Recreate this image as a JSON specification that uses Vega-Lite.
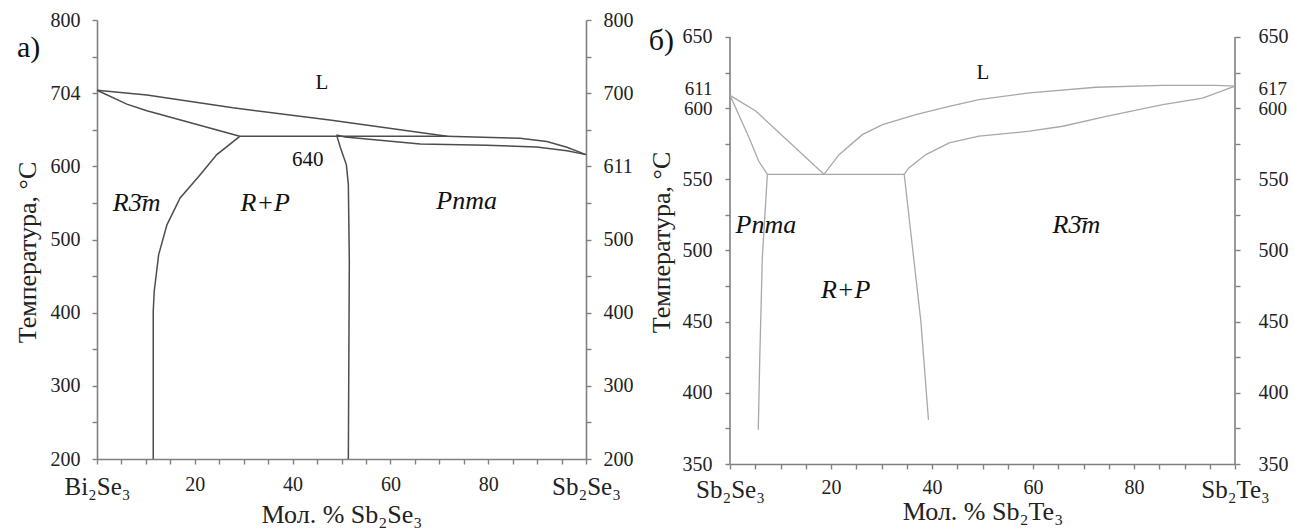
{
  "$schema": "https://vega.github.io/schema/vega-lite/v6.json",
  "padding": {"left": 14, "top": 10, "right": 5, "bottom": 5},
  "background": "white",
  "config": {
    "view": {"stroke": null},
    "font": "'Liberation Serif', 'Times New Roman', serif",
    "axis": {
      "grid": false,
      "domainColor": "#808080",
      "domainWidth": 1.6,
      "tickColor": "#808080",
      "tickWidth": 1.4,
      "tickSize": 5,
      "labelColor": "#222222",
      "labelFont": "'Liberation Serif', 'Times New Roman', serif",
      "labelFontSize": 20,
      "titleFont": "'Liberation Serif', 'Times New Roman', serif",
      "titleFontSize": 26,
      "titleFontWeight": "normal",
      "titleColor": "#222222",
      "labelOverlap": false,
      "labelFlush": false
    },
    "text": {"font": "'Liberation Serif', 'Times New Roman', serif", "color": "#111111"}
  },
  "datasets": {
    "a_lines": [
      {"seg": "liqL", "i": 0, "x": 0, "T": 704},
      {"seg": "liqL", "i": 1, "x": 10.2, "T": 697.5},
      {"seg": "liqL", "i": 2, "x": 27.8, "T": 680},
      {"seg": "liqL", "i": 3, "x": 47.6, "T": 663.3},
      {"seg": "liqL", "i": 4, "x": 71.6, "T": 641},
      {"seg": "solL", "i": 0, "x": 0, "T": 704},
      {"seg": "solL", "i": 1, "x": 6.1, "T": 685},
      {"seg": "solL", "i": 2, "x": 10.2, "T": 676},
      {"seg": "solL", "i": 3, "x": 29.2, "T": 641},
      {"seg": "liqR", "i": 0, "x": 29.2, "T": 641},
      {"seg": "liqR", "i": 1, "x": 71.6, "T": 641},
      {"seg": "liqR", "i": 2, "x": 86.5, "T": 638.4},
      {"seg": "liqR", "i": 3, "x": 92, "T": 633.8},
      {"seg": "liqR", "i": 4, "x": 96.1, "T": 626.1},
      {"seg": "liqR", "i": 5, "x": 100, "T": 616},
      {"seg": "solR", "i": 0, "x": 49, "T": 643},
      {"seg": "solR", "i": 1, "x": 50.7, "T": 640},
      {"seg": "solR", "i": 2, "x": 66.1, "T": 630.5},
      {"seg": "solR", "i": 3, "x": 79.7, "T": 628.7},
      {"seg": "solR", "i": 4, "x": 89.9, "T": 626.4},
      {"seg": "solR", "i": 5, "x": 96.1, "T": 621.4},
      {"seg": "solR", "i": 6, "x": 100, "T": 616},
      {"seg": "solvP", "i": 0, "x": 49, "T": 643},
      {"seg": "solvP", "i": 1, "x": 49.8, "T": 625},
      {"seg": "solvP", "i": 2, "x": 51, "T": 602},
      {"seg": "solvP", "i": 3, "x": 51.4, "T": 575},
      {"seg": "solvP", "i": 4, "x": 51.6, "T": 470},
      {"seg": "solvP", "i": 5, "x": 51.4, "T": 200},
      {"seg": "solvR", "i": 0, "x": 29.2, "T": 641},
      {"seg": "solvR", "i": 1, "x": 24.5, "T": 616},
      {"seg": "solvR", "i": 2, "x": 21.1, "T": 588.6},
      {"seg": "solvR", "i": 3, "x": 17, "T": 556.7},
      {"seg": "solvR", "i": 4, "x": 14.3, "T": 520},
      {"seg": "solvR", "i": 5, "x": 12.6, "T": 479},
      {"seg": "solvR", "i": 6, "x": 11.7, "T": 429},
      {"seg": "solvR", "i": 7, "x": 11.5, "T": 402},
      {"seg": "solvR", "i": 8, "x": 11.5, "T": 200}
    ],
    "a_phase": [
      {"t": "R3̄m", "x": 8.1, "T": 550},
      {"t": "R+P", "x": 34.4, "T": 550},
      {"t": "Pnma", "x": 75.6, "T": 552}
    ],
    "a_plain": [
      {"t": "L", "x": 46, "T": 714},
      {"t": "640", "x": 43.1, "T": 609}
    ],
    "a_letter": [
      {"t": "a)", "x": -14, "T": 762}
    ],
    "b_lines": [
      {"seg": "liqL", "i": 0, "x": 0, "T": 609},
      {"seg": "liqL", "i": 1, "x": 5.1, "T": 598},
      {"seg": "liqL", "i": 2, "x": 18.6, "T": 553.5},
      {"seg": "solL", "i": 0, "x": 0, "T": 609},
      {"seg": "solL", "i": 1, "x": 3.8, "T": 579},
      {"seg": "solL", "i": 2, "x": 5.7, "T": 562.7},
      {"seg": "solL", "i": 3, "x": 7.4, "T": 553.5},
      {"seg": "eut", "i": 0, "x": 7.4, "T": 553.5},
      {"seg": "eut", "i": 1, "x": 34.5, "T": 553.5},
      {"seg": "solvP", "i": 0, "x": 7.4, "T": 553.5},
      {"seg": "solvP", "i": 1, "x": 6.4, "T": 495},
      {"seg": "solvP", "i": 2, "x": 5.9, "T": 425},
      {"seg": "solvP", "i": 3, "x": 5.6, "T": 374},
      {"seg": "solvR", "i": 0, "x": 34.5, "T": 553.5},
      {"seg": "solvR", "i": 1, "x": 36.2, "T": 500},
      {"seg": "solvR", "i": 2, "x": 37.8, "T": 450},
      {"seg": "solvR", "i": 3, "x": 39.3, "T": 381},
      {"seg": "liqR", "i": 0, "x": 18.6, "T": 553.5},
      {"seg": "liqR", "i": 1, "x": 21.6, "T": 567.3},
      {"seg": "liqR", "i": 2, "x": 26.2, "T": 581.4},
      {"seg": "liqR", "i": 3, "x": 30.2, "T": 588.4},
      {"seg": "liqR", "i": 4, "x": 36.8, "T": 595.4},
      {"seg": "liqR", "i": 5, "x": 43.4, "T": 601.3},
      {"seg": "liqR", "i": 6, "x": 49.3, "T": 606},
      {"seg": "liqR", "i": 7, "x": 59.3, "T": 610.7},
      {"seg": "liqR", "i": 8, "x": 72.5, "T": 614.7},
      {"seg": "liqR", "i": 9, "x": 85.7, "T": 616},
      {"seg": "liqR", "i": 10, "x": 96.3, "T": 616},
      {"seg": "liqR", "i": 11, "x": 100, "T": 615.5},
      {"seg": "solR", "i": 0, "x": 34.5, "T": 553.5},
      {"seg": "solR", "i": 1, "x": 35.4, "T": 558},
      {"seg": "solR", "i": 2, "x": 38.8, "T": 567.4},
      {"seg": "solR", "i": 3, "x": 43.4, "T": 575.6},
      {"seg": "solR", "i": 4, "x": 49.3, "T": 580.3},
      {"seg": "solR", "i": 5, "x": 59.3, "T": 583.8},
      {"seg": "solR", "i": 6, "x": 65.9, "T": 587.3},
      {"seg": "solR", "i": 7, "x": 74.5, "T": 594.3},
      {"seg": "solR", "i": 8, "x": 85.7, "T": 602.5},
      {"seg": "solR", "i": 9, "x": 93.6, "T": 607},
      {"seg": "solR", "i": 10, "x": 100, "T": 615.5}
    ],
    "b_frame": [
      {"x": 0, "T": 350, "T2": 650},
      {"x": 100, "T": 350, "T2": 650}
    ],
    "b_phase": [
      {"t": "Pnma", "x": 7.1, "T": 518},
      {"t": "R+P", "x": 22.9, "T": 472.5},
      {"t": "R3̄m", "x": 68.6, "T": 518}
    ],
    "b_plain": [
      {"t": "L", "x": 50.1, "T": 625}
    ],
    "b_letter": [
      {"t": "б)", "x": -13.6, "T": 647}
    ]
  },
  "hconcat": [
    {
      "width": 489,
      "height": 439,
      "encoding": {
        "x": {
          "field": "x", "type": "quantitative",
          "scale": {"domain": [0, 100], "nice": false},
          "axis": {
            "title": "Мол. % Sb₂Se₃",
            "values": [0,5,10,15,20,25,30,35,40,45,50,55,60,65,70,75,80,85,90,95,100],
            "labelExpr": "datum.value == 0 ? 'Bi₂Se₃' : datum.value == 100 ? 'Sb₂Se₃' : (datum.value % 20 == 0 ? datum.label : '')",
            "labelFontSize": {"condition": {"test": "datum.value == 0 || datum.value == 100", "value": 25}, "value": 20},
            "labelPadding": 10,
            "titlePadding": 2
          }
        }
      },
      "layer": [
        {
          "data": {"name": "a_lines"},
          "mark": {"type": "line", "color": "#4d4d4d", "strokeWidth": 1.5},
          "encoding": {
            "y": {
              "field": "T", "type": "quantitative",
              "scale": {"domain": [200, 800], "nice": false, "zero": false},
              "axis": {
                "orient": "left",
                "title": "Температура, °C",
                "titleY": 232,
                "values": [200,250,300,350,400,450,500,550,600,650,700,750,800],
                "labelExpr": "datum.value == 700 ? '704' : (datum.value % 100 == 0 ? datum.label : '')",
                "labelPadding": 12,
                "titlePadding": 10
              }
            },
            "detail": {"field": "seg"},
            "order": {"field": "i", "type": "quantitative"}
          }
        },
        {
          "data": {"name": "a_phase"},
          "mark": {"type": "text", "fontStyle": "italic", "fontSize": 26},
          "encoding": {
            "y": {
              "field": "T", "type": "quantitative",
              "axis": {
                "orient": "right",
                "title": null,
                "values": [200,250,300,350,400,450,500,550,600,650,700,750,800],
                "labelExpr": "datum.value == 600 ? '611' : (datum.value % 100 == 0 ? datum.label : '')",
                "labelPadding": 12
              }
            },
            "text": {"field": "t"}
          }
        },
        {
          "data": {"name": "a_plain"},
          "mark": {"type": "text", "fontSize": 21},
          "encoding": {
            "y": {"field": "T", "type": "quantitative", "axis": null},
            "text": {"field": "t"}
          }
        },
        {
          "data": {"name": "a_letter"},
          "mark": {"type": "text", "fontSize": 30},
          "encoding": {
            "y": {"field": "T", "type": "quantitative", "axis": null},
            "text": {"field": "t"}
          }
        }
      ],
      "resolve": {"axis": {"y": "independent"}}
    },
    {
      "width": 505,
      "height": 444,
      "encoding": {
        "x": {
          "field": "x", "type": "quantitative",
          "scale": {"domain": [0, 100], "nice": false},
          "axis": {
            "title": "Мол. % Sb₂Te₃",
            "values": [0,5,10,15,20,25,30,35,40,45,50,55,60,65,70,75,80,85,90,95,100],
            "labelExpr": "datum.value == 0 ? 'Sb₂Se₃' : datum.value == 100 ? 'Sb₂Te₃' : (datum.value % 20 == 0 ? datum.label : '')",
            "labelFontSize": {"condition": {"test": "datum.value == 0 || datum.value == 100", "value": 25}, "value": 20},
            "labelPadding": 8,
            "titlePadding": -4
          }
        }
      },
      "layer": [
        {
          "data": {"name": "b_frame"},
          "mark": {"type": "rule", "color": "#808080", "strokeWidth": 1.6},
          "encoding": {
            "y": {"field": "T", "type": "quantitative", "axis": null},
            "y2": {"field": "T2"}
          }
        },
        {
          "data": {"name": "b_lines"},
          "mark": {"type": "line", "color": "#a8a8a8", "strokeWidth": 1.3},
          "encoding": {
            "y": {
              "field": "T", "type": "quantitative",
              "scale": {"domain": [350, 661.94], "nice": false, "zero": false},
              "axis": {
                "orient": "left",
                "title": "Температура, °C",
                "domain": false,
                "values": [350,375,400,425,450,475,500,525,550,575,600,613.5,625,650],
                "labelExpr": "datum.value == 613.5 ? '611' : (datum.value % 50 == 0 ? datum.label : '')",
                "labelFontSize": {"condition": {"test": "datum.value == 613.5 || datum.value == 600", "value": 19}, "value": 20},
                "tickOpacity": {"condition": {"test": "datum.value == 613.5", "value": 0}, "value": 1},
                "labelPadding": 13,
                "titlePadding": 8
              }
            },
            "detail": {"field": "seg"},
            "order": {"field": "i", "type": "quantitative"}
          }
        },
        {
          "data": {"name": "b_phase"},
          "mark": {"type": "text", "fontStyle": "italic", "fontSize": 26},
          "encoding": {
            "y": {
              "field": "T", "type": "quantitative",
              "axis": {
                "orient": "right",
                "title": null,
                "domain": false,
                "values": [350,375,400,425,450,475,500,525,550,575,600,613.5,625,650],
                "labelExpr": "datum.value == 613.5 ? '617' : (datum.value % 50 == 0 ? datum.label : '')",
                "labelFontSize": {"condition": {"test": "datum.value == 613.5 || datum.value == 600", "value": 19}, "value": 20},
                "tickOpacity": {"condition": {"test": "datum.value == 613.5", "value": 0}, "value": 1},
                "labelPadding": 18
              }
            },
            "text": {"field": "t"}
          }
        },
        {
          "data": {"name": "b_plain"},
          "mark": {"type": "text", "fontSize": 21},
          "encoding": {
            "y": {"field": "T", "type": "quantitative", "axis": null},
            "text": {"field": "t"}
          }
        },
        {
          "data": {"name": "b_letter"},
          "mark": {"type": "text", "fontSize": 30},
          "encoding": {
            "y": {"field": "T", "type": "quantitative", "axis": null},
            "text": {"field": "t"}
          }
        }
      ],
      "resolve": {"axis": {"y": "independent"}}
    }
  ],
  "spacing": 15
}
